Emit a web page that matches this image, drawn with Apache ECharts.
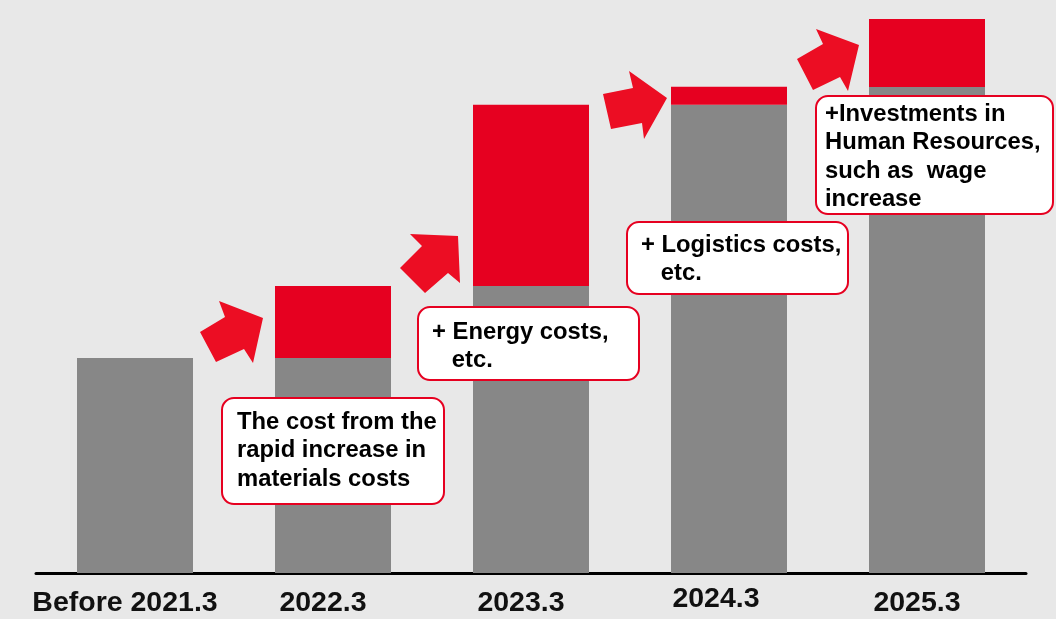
<!DOCTYPE html>
<html><head><meta charset="utf-8">
<script src="https://cdn.jsdelivr.net/npm/echarts@6/dist/echarts.min.js"></script>
<style>html,body{margin:0;padding:0;background:#e8e8e8}#c{width:1056px;height:619px}</style>
</head><body><div id="c"></div>
<script>
const categories = ['Before 2021.3', '2022.3', '2023.3', '2024.3', '2025.3'];
const baseCost = [100, 100, 133.5, 217.7, 226.0];
const increase = [null, 33.5, 84.2, 8.4, 31.6];
const callouts = [
  'The cost from the\nrapid increase in\nmaterials costs',
  '+ Energy costs,\n   etc.',
  '+ Logistics costs,\n   etc.',
  '+Investments in\nHuman Resources,\nsuch as  wage\nincrease'
];

const FONT = '"Liberation Sans", Arial, sans-serif';
const RED = '#e60020', GRAY = '#878787', ARROW = '#ec0d23';

function box(x, y, w, h, tx, ty, txt) {
  return {
    type: 'group', z: 100, children: [
      { type: 'rect', z: 100, shape: { x: x, y: y, width: w, height: h, r: 12 },
        style: { fill: '#fff', stroke: RED, lineWidth: 2 } },
      { type: 'text', z: 101, x: tx, y: ty,
        style: { text: txt, font: 'bold 23.8px ' + FONT, lineHeight: 28.5, fill: '#000', textVerticalAlign: 'top' } }
    ]
  };
}
function arrow(pts) {
  return { type: 'polygon', z: 100, shape: { points: pts }, style: { fill: ARROW } };
}

const chart = echarts.init(document.getElementById('c'));
chart.setOption({
  backgroundColor: '#e8e8e8',
  animation: false,
  grid: { left: 36, right: 30, top: 1, bottom: 46, containLabel: false, outerBoundsMode: 'none' },
  xAxis: {
    type: 'category', data: categories,
    axisLine: { lineStyle: { color: '#000', width: 3 } },
    axisTick: { show: false },
    axisLabel: {
      margin: 14,
      formatter: function (v) { return v === '2024.3' ? '{u|' + v + '}' : '{n|' + v + '}'; },
      rich: {
        n: { fontSize: 28.5, fontWeight: 'bold', fontFamily: FONT, color: '#111', padding: [0, 20, 0, 0], lineHeight: 32 },
        u: { fontSize: 28.5, fontWeight: 'bold', fontFamily: FONT, color: '#111', padding: [0, 26, 8, 0], lineHeight: 32 }
      }
    }
  },
  yAxis: { type: 'value', min: 0, max: 266, show: false, splitLine: { show: false } },
  series: [
    { type: 'bar', stack: 's', data: baseCost, barWidth: 116, itemStyle: { color: GRAY } },
    { type: 'bar', stack: 's', data: increase, barWidth: 116, itemStyle: { color: RED } }
  ],
  graphic: [
    arrow([[200, 332], [225, 317], [219, 301], [263, 318], [253, 363], [244, 349], [216, 362]]),
    arrow([[400, 268], [422, 246], [410, 234], [458, 236], [460, 283], [448, 273], [425, 293]]),
    arrow([[603, 94], [633, 88], [629, 71], [667, 98], [644, 139], [642, 123], [611, 129]]),
    arrow([[797, 59], [823, 44], [816, 29], [859, 45], [848, 91], [840, 77], [813, 90]]),
    box(222, 398, 222, 106, 237, 408, callouts[0]),
    box(418, 307, 221, 73, 432, 318, callouts[1]),
    box(627, 222, 221, 72, 641, 231, callouts[2]),
    box(816, 96, 237, 118, 825, 100, callouts[3])
  ]
});
</script></body></html>
